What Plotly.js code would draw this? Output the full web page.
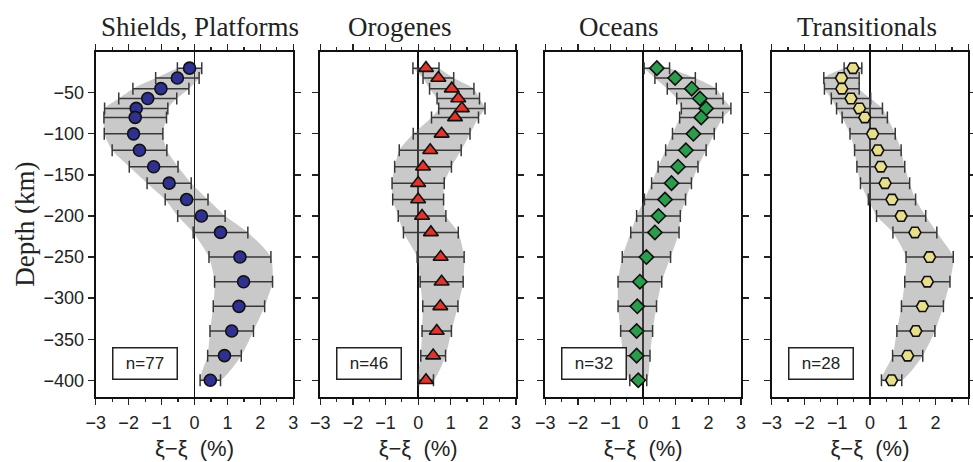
<!DOCTYPE html>
<html>
<head>
<meta charset="utf-8">
<script src="https://cdn.plot.ly/plotly-3.0.1.min.js"></script>
<style>html,body{margin:0;padding:0;background:#fff;}#chart{width:973px;height:462px;}</style>
</head>
<body>
<div id="chart"></div>
<script>
// ---- data ----
const depth = [-20,-32,-45,-57,-69,-80,-100,-120,-140,-160,-180,-200,-220,-250,-280,-310,-340,-370,-400];

const panelTitles = ["Shields, Platforms","Orogenes","Oceans","Transitionals"];
const counts = ["n=77","n=46","n=32","n=28"];

const shieldsX   = [-0.15,-0.52,-1.02,-1.42,-1.77,-1.80,-1.85,-1.67,-1.24,-0.77,-0.24,0.21,0.79,1.38,1.49,1.35,1.13,0.91,0.48];
const shieldsErr = [0.37,0.66,0.85,0.88,0.96,0.95,0.89,0.83,0.74,0.67,0.65,0.72,0.83,0.94,0.88,0.78,0.66,0.51,0.31];

const orogenesX   = [0.24,0.62,1.03,1.23,1.34,1.13,0.72,0.37,0.15,0.00,0.00,0.12,0.39,0.69,0.72,0.68,0.57,0.46,0.24];
const orogenesErr = [0.40,0.47,0.68,0.65,0.71,0.72,0.87,0.95,0.87,0.80,0.78,0.73,0.84,0.72,0.66,0.54,0.45,0.38,0.23];

const oceansX   = [0.42,0.98,1.49,1.74,1.93,1.78,1.54,1.31,1.07,0.87,0.67,0.47,0.36,0.10,-0.10,-0.18,-0.20,-0.20,-0.15];
const oceansErr = [0.39,0.62,0.75,0.71,0.76,0.66,0.64,0.62,0.61,0.61,0.63,0.67,0.74,0.74,0.67,0.59,0.49,0.41,0.26];

const transX   = [-0.52,-0.87,-0.86,-0.58,-0.32,-0.16,0.08,0.24,0.33,0.46,0.67,0.95,1.37,1.82,1.75,1.60,1.40,1.15,0.66];
const transErr = [0.27,0.54,0.53,0.60,0.70,0.69,0.69,0.71,0.73,0.75,0.72,0.75,0.67,0.72,0.69,0.64,0.58,0.46,0.31];

const depthTicks = [-50,-100,-150,-200,-250,-300,-350,-400];
const xTicks = [-3,-2,-1,0,1,2,3];

// ---- styling ----
const W = 973, H = 462;
const panelPx = [[95.7,293.3],[320.3,516],[545.3,741],[771.7,968.3]];
const titleCx = [200,399,618,867];
const yDom = [(H-396.7)/H, (H-51.7)/H];
const series = [
  {x: shieldsX,  e: shieldsErr,  sym: 'circle',      col: '#2f3190', size: 12},
  {x: orogenesX, e: orogenesErr, sym: 'triangle-up', col: '#e1342a', size: 13},
  {x: oceansX,   e: oceansErr,   sym: 'diamond',     col: '#2b9c4c', size: 11},
  {x: transX,    e: transErr,    sym: 'hexagon2',    col: '#e8df8c', size: 12}
];

const traces = [];
const layout = {
  width: W, height: H,
  margin: {l:0, r:0, t:0, b:0},
  paper_bgcolor: '#fff', plot_bgcolor: '#fff',
  showlegend: false,
  font: {family: 'Liberation Sans, Arial, sans-serif', size: 17, color: '#222'},
  annotations: [], shapes: []
};

series.forEach((s, i) => {
  const n = i === 0 ? '' : String(i+1);
  const xa = 'x' + n, ya = 'y' + n;
  // band: upper edge down, lower edge back up
  const bandX = s.x.map((v,k)=>v + s.e[k]).concat(s.x.map((v,k)=>v - s.e[k]).reverse());
  const bandY = depth.concat(depth.slice().reverse());
  traces.push({
    type:'scatter', mode:'lines', x: bandX, y: bandY, xaxis: xa, yaxis: ya,
    fill:'toself', fillcolor:'rgba(120,120,120,0.40)',
    line:{width:0, shape:'spline', smoothing:0.6}, hoverinfo:'skip'
  });
  traces.push({
    type:'scatter', mode:'markers', x: s.x, y: depth, xaxis: xa, yaxis: ya,
    error_x:{type:'data', array: s.e, visible:true, color:'#383838', thickness:1.5, width:6},
    marker:{symbol: s.sym, color: s.col, size: s.size, line:{color:'#111', width:1.6}}
  });

  layout['xaxis' + n] = {
    domain: [panelPx[i][0]/W, panelPx[i][1]/W], anchor: ya,
    range: [-3, 3], tickvals: xTicks, ticks:'outside', ticklen:6, tickwidth:1.3, tickcolor:'#222',
    minor:{dtick:0.5, ticks:'outside', ticklen:3, tickwidth:1.2, tickcolor:'#222'},
    showline:true, linecolor:'#111', linewidth:2, mirror:'ticks',
    showgrid:false, zeroline:true, zerolinecolor:'#111', zerolinewidth:1.7,
    tickfont:{size:18}, ticklabelstandoff: 3,
    title:{text:'ξ−ξ\u00a0 (%)', font:{size:22}, standoff: 8}
  };
  layout['yaxis' + n] = {
    domain: yDom, anchor: xa,
    range: [-420, 0], tickvals: depthTicks, ticks:'outside', ticklen:6, tickwidth:1.3, tickcolor:'#222',
    showline:true, linecolor:'#111', linewidth:2, mirror:'ticks',
    showgrid:false, zeroline:false, showticklabels: i === 0,
    tickfont:{size:18}
  };
  if (i === 0) {
    layout.yaxis.title = {text:'Depth (km)', font:{family:'Liberation Serif, Times New Roman, serif', size:27}, standoff: 1};
  }
  layout.annotations.push({
    xref:'paper', yref:'paper', x: titleCx[i]/W, y: (H-27)/H, xanchor:'center', yanchor:'middle',
    text: panelTitles[i], showarrow:false,
    font:{family:'Liberation Serif, Times New Roman, serif', size:27, color:'#222'}
  });
  layout.annotations.push({
    xref: xa + ' domain', yref: ya + ' domain', x: 0.249, y: 0.096, xanchor:'center', yanchor:'middle',
    text: counts[i], showarrow:false, bgcolor:'#fff', bordercolor:'#222', borderwidth:1.5, borderpad:1.5,
    width:60, height:27, font:{size:17, color:'#222'}
  });
});

Plotly.newPlot('chart', traces, layout, {displayModeBar:false, staticPlot:true});
</script>
</body>
</html>
